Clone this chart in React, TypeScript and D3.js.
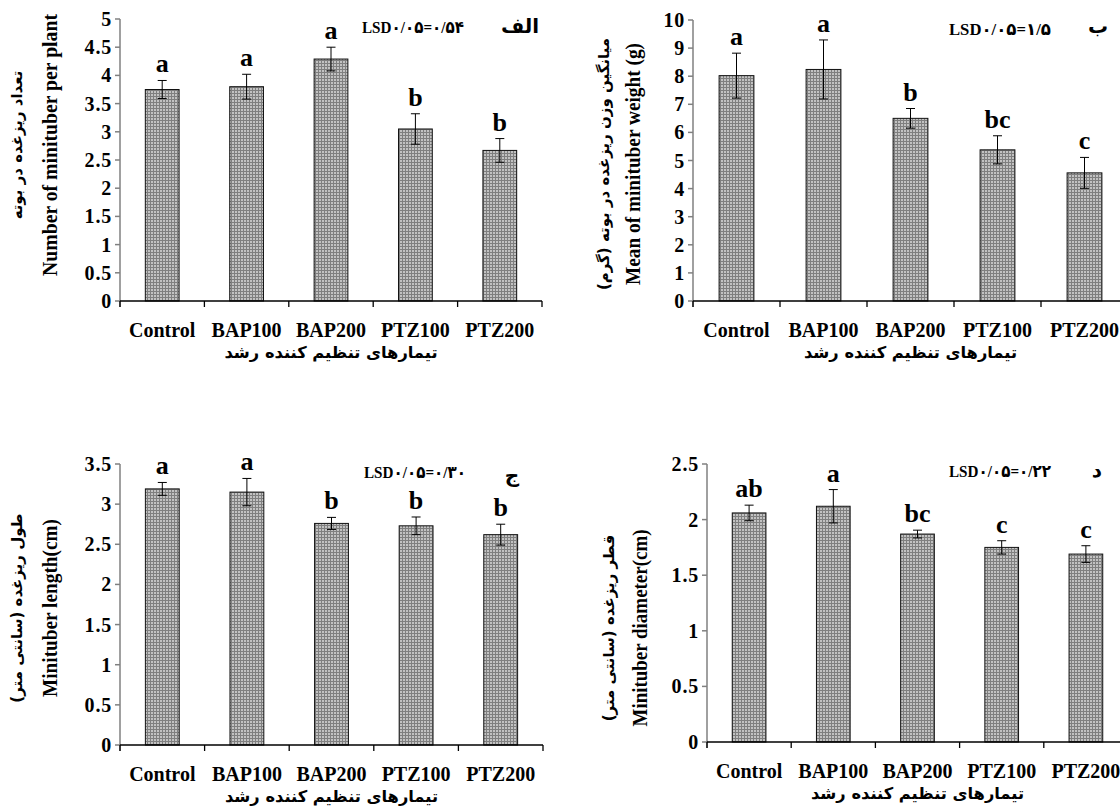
import React from 'react';
import * as d3 from 'd3';

// treatments shared by all four panels
const treatments = ['Control', 'BAP100', 'BAP200', 'PTZ100', 'PTZ200'];

// panel الف : number of minitubers per plant
const countMeans = [3.75, 3.80, 4.29, 3.05, 2.67];
const countErr = [0.16, 0.22, 0.21, 0.27, 0.21];
const countLetters = ['a', 'a', 'a', 'b', 'b'];
const countTicks = [0, 0.5, 1, 1.5, 2, 2.5, 3, 3.5, 4, 4.5, 5];

// panel ب : mean minituber weight
const weightMeans = [8.02, 8.24, 6.5, 5.38, 4.56];
const weightErr = [0.8, 1.05, 0.35, 0.5, 0.55];
const weightLetters = ['a', 'a', 'b', 'bc', 'c'];
const weightTicks = [0, 1, 2, 3, 4, 5, 6, 7, 8, 9, 10];

// panel ج : minituber length
const lengthMeans = [3.19, 3.15, 2.76, 2.73, 2.62];
const lengthErr = [0.08, 0.17, 0.075, 0.11, 0.13];
const lengthLetters = ['a', 'a', 'b', 'b', 'b'];
const lengthTicks = [0, 0.5, 1, 1.5, 2, 2.5, 3, 3.5];

// panel د : minituber diameter
const diamMeans = [2.06, 2.12, 1.87, 1.75, 1.69];
const diamErr = [0.07, 0.15, 0.035, 0.06, 0.075];
const diamLetters = ['ab', 'a', 'bc', 'c', 'c'];
const diamTicks = [0, 0.5, 1, 1.5, 2, 2.5];

const xTitle = 'تیمارهای تنظیم کننده رشد';

const EN = "'Liberation Serif', 'Times New Roman', serif";
const FA = "'DejaVu Sans', 'Noto Sans', sans-serif";

type PanelProps = {
  means: number[];
  errs: number[];
  letters: string[];
  ticks: number[];
  x0: number; x1: number; top: number; bottom: number;
  enLabel: string; faLabel: string;
  enX: number; faX: number; labelCy: number; enLen: number;
  lsd: string; lsdX: number; lsdY: number;
  tag: string; tagX: number; tagY: number;
};

function Panel(p: PanelProps) {
  const max = p.ticks[p.ticks.length - 1];
  const y = d3.scaleLinear().domain([0, max]).range([p.bottom, p.top]);
  const x = d3.scaleBand().domain(treatments).range([p.x0, p.x1]).padding(0.6).paddingOuter(0.3);
  const step = x.step();
  const bounds = d3.range(treatments.length + 1).map(i => p.x0 + i * step);
  const xMid = (p.x0 + p.x1) / 2;
  const cx = (t: string) => (x(t) as number) + x.bandwidth() / 2;

  return (
    <g>
      {/* bars */}
      {treatments.map((t, i) => (
        <rect key={t} x={x(t)} y={y(p.means[i])} width={x.bandwidth()} height={p.bottom - y(p.means[i])}
          fill="url(#chk)" stroke="#111" strokeWidth={1} />
      ))}
      {/* error bars */}
      {treatments.map((t, i) => {
        const hi = y(p.means[i] + p.errs[i]), lo = y(p.means[i] - p.errs[i]);
        return (
          <g key={t} stroke="#000" strokeWidth={1}>
            <line x1={cx(t)} x2={cx(t)} y1={hi} y2={lo} />
            <line x1={cx(t) - 4.5} x2={cx(t) + 4.5} y1={hi} y2={hi} />
            <line x1={cx(t) - 4.5} x2={cx(t) + 4.5} y1={lo} y2={lo} />
          </g>
        );
      })}
      {/* significance letters */}
      {treatments.map((t, i) => (
        <text key={t} x={cx(t)} y={y(p.means[i] + p.errs[i]) - 8}
          textAnchor="middle" fontFamily={EN} fontWeight="bold" fontSize={26}>{p.letters[i]}</text>
      ))}

      {/* y axis */}
      <line x1={p.x0} x2={p.x0} y1={p.top} y2={p.bottom + 6} stroke="#808080" strokeWidth={1.5} />
      {p.ticks.map(v => (
        <g key={v}>
          <line x1={p.x0 - 5} x2={p.x0} y1={y(v)} y2={y(v)} stroke="#808080" strokeWidth={1.5} />
          <text x={p.x0 - 8} y={y(v)} dy="0.35em" textAnchor="end" fontFamily={EN} fontWeight="bold"
            fontSize={20} letterSpacing={0.8}>{v}</text>
        </g>
      ))}
      {/* x axis */}
      <line x1={p.x0} x2={p.x1} y1={p.bottom} y2={p.bottom} stroke="#000" strokeWidth={1.3} />
      {bounds.map((b, i) => (
        <line key={i} x1={b} x2={b} y1={p.bottom} y2={p.bottom + 6} stroke="#000" strokeWidth={1.3} />
      ))}
      {treatments.map(t => (
        <text key={t} x={cx(t)} y={p.bottom + 36} textAnchor="middle"
          fontFamily={EN} fontWeight="bold" fontSize={20}>{t}</text>
      ))}
      <text x={xMid} y={p.bottom + 57} textAnchor="middle" direction="rtl" fontFamily={FA} fontWeight="bold"
        fontSize={16.3}>{xTitle}</text>

      {/* y titles */}
      <text transform={`translate(${p.enX},${p.labelCy}) rotate(-90)`} textAnchor="middle"
        fontFamily={EN} fontWeight="bold" fontSize={20} textLength={p.enLen} lengthAdjust="spacingAndGlyphs">{p.enLabel}</text>
      <text transform={`translate(${p.faX},${p.labelCy}) rotate(-90)`} textAnchor="middle" direction="rtl"
        fontFamily={FA} fontWeight="bold" fontSize={15}>{p.faLabel}</text>

      {/* LSD and panel tag */}
      <text x={p.lsdX} y={p.lsdY} fontFamily={`${EN}, 'DejaVu Sans'`} fontWeight="bold" fontSize={17}
        textLength={102} lengthAdjust="spacingAndGlyphs">{p.lsd}</text>
      <text x={p.tagX} y={p.tagY} textAnchor="middle" direction="rtl" fontFamily={FA} fontWeight="bold" fontSize={20}>{p.tag}</text>
    </g>
  );
}

export default function App() {
  return (
    <svg width={1120} height={807} style={{ position: 'absolute', left: 0, top: 0, background: '#fff' }}>
      <defs>
        <pattern id="chk" width={3} height={3} patternUnits="userSpaceOnUse">
          <rect width={3} height={3} fill="#7f7f7f" />
          <rect x={1} y={1} width={2} height={2} fill="#c2c2c2" />
        </pattern>
      </defs>
      <Panel means={countMeans} errs={countErr} letters={countLetters} ticks={countTicks}
        x0={120} x1={542} top={19} bottom={301}
        enLabel="Number of minituber per plant" faLabel="تعداد ریزغده در بوته"
        enX={57} faX={22} labelCy={145} enLen={262}
        lsd="LSD۰/۰۵=۰/۵۴" lsdX={362} lsdY={33} tag="الف" tagX={520} tagY={33} />
      <Panel means={weightMeans} errs={weightErr} letters={weightLetters} ticks={weightTicks}
        x0={693} x1={1128} top={20} bottom={301}
        enLabel="Mean of minituber weight (g)" faLabel="میانگین وزن ریزغده در بوته (گرم)"
        enX={640} faX={609} labelCy={164} enLen={242}
        lsd="LSD۰/۰۵=۱/۵" lsdX={949} lsdY={35} tag="ب" tagX={1098} tagY={33} />
      <Panel means={lengthMeans} errs={lengthErr} letters={lengthLetters} ticks={lengthTicks}
        x0={120} x1={543} top={464} bottom={745}
        enLabel="Minituber length(cm)" faLabel="طول ریزغده (سانتی متر)"
        enX={57} faX={22} labelCy={608} enLen={178}
        lsd="LSD۰/۰۵=۰/۳۰" lsdX={364} lsdY={478} tag="ج" tagX={512} tagY={482} />
      <Panel means={diamMeans} errs={diamErr} letters={diamLetters} ticks={diamTicks}
        x0={707} x1={1128} top={464} bottom={742}
        enLabel="Minituber diameter(cm)" faLabel="قطر ریزغده (سانتی متر)"
        enX={647} faX={614} labelCy={628} enLen={197}
        lsd="LSD۰/۰۵=۰/۲۲" lsdX={949} lsdY={477} tag="د" tagX={1097} tagY={477} />
    </svg>
  );
}
